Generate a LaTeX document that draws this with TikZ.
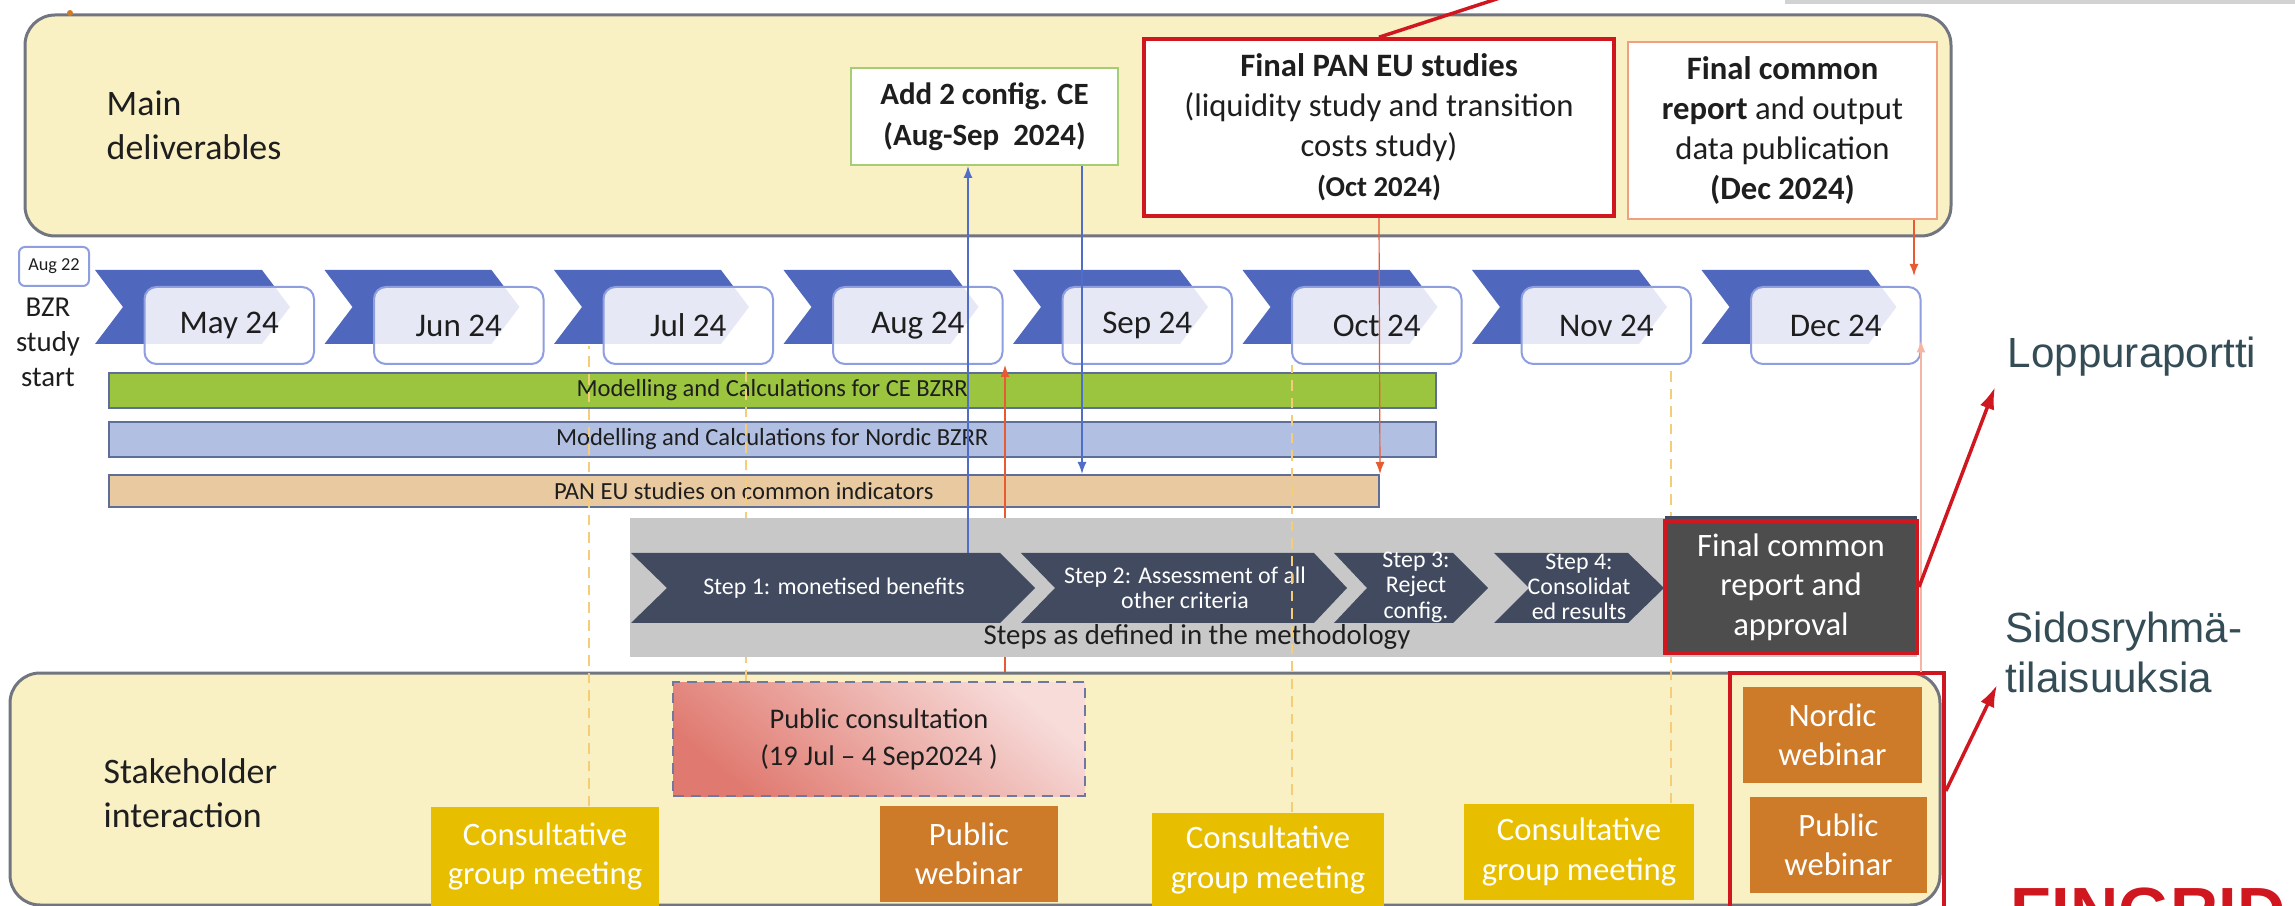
\documentclass[tikz,border=0pt]{standalone}
\usepackage{fontspec}
\setmainfont{Carlito}
\newfontfamily\arialf{Liberation Sans}
\usetikzlibrary{arrows.meta}
\definecolor{bandfill}{RGB}{249,240,196}
\definecolor{bandedge}{RGB}{112,117,128}
\definecolor{chev}{RGB}{79,103,189}
\definecolor{monthedge}{RGB}{142,158,222}
\definecolor{cegreen}{RGB}{155,197,63}
\definecolor{nordic}{RGB}{176,191,226}
\definecolor{panbarc}{RGB}{232,201,160}
\definecolor{baredge}{RGB}{95,110,150}
\definecolor{stepgray}{RGB}{200,200,200}
\definecolor{stepdark}{RGB}{65,74,95}
\definecolor{finaldark}{RGB}{77,77,77}
\definecolor{redline}{RGB}{208,22,31}
\definecolor{gold}{RGB}{232,190,0}
\definecolor{orng}{RGB}{205,122,41}
\definecolor{pcdark}{RGB}{224,122,112}
\definecolor{pclight}{RGB}{247,220,218}
\definecolor{pcedge}{RGB}{112,120,160}
\definecolor{slate}{RGB}{52,76,86}
\definecolor{addgreen}{RGB}{165,205,115}
\definecolor{salmon}{RGB}{240,160,130}
\definecolor{linkblue}{RGB}{80,110,200}
\definecolor{linkred}{RGB}{232,90,50}
\definecolor{dashy}{RGB}{245,205,120}
\definecolor{txt}{RGB}{30,30,30}
\newcommand\fBig{\fontsize{10.2pt}{12.6pt}\selectfont}
\newcommand\fMonth{\fontsize{9.4pt}{11pt}\selectfont}
\newcommand\fDel{\fontsize{9.3pt}{11.4pt}\selectfont}
\newcommand\fAdd{\fontsize{8.8pt}{11.7pt}\selectfont}
\newcommand\fBar{\fontsize{7pt}{8pt}\selectfont}
\newcommand\fStep{\fontsize{6.8pt}{7.2pt}\selectfont}
\newcommand\fSteps{\fontsize{8.2pt}{9pt}\selectfont}
\newcommand\fEv{\fontsize{9.3pt}{11.2pt}\selectfont}
\newcommand\fPC{\fontsize{8.1pt}{10.5pt}\selectfont}
\newcommand\fAug{\fontsize{5.2pt}{6pt}\selectfont}
\newcommand\fBZR{\fontsize{8.2pt}{10pt}\selectfont}
\newcommand\fFin{\fontsize{12pt}{14.2pt}\selectfont}
\begin{document}
\begin{tikzpicture}[x=0.1mm,y=-0.1mm,
  every node/.style={text=txt},
  band/.style={draw=bandedge, line width=0.3mm, fill=bandfill, rounded corners=3mm, inner sep=0},
  delbox/.style={fill=white, line width=0.2mm, align=center, inner sep=0, font=\fDel},
  monthbox/.style={draw=monthedge, line width=0.2mm, fill=white, fill opacity=0.86, text opacity=1,
     rounded corners=1.2mm, minimum width=16.95mm, minimum height=7.7mm, inner sep=0, font=\fMonth},
  bar/.style={draw=baredge, line width=0.2mm, inner sep=0, font=\fBar},
  steptext/.style={text=white, font=\fStep, align=center, inner sep=0},
  ev/.style={inner sep=0, text=white, align=center, font=\fEv},
  ydash/.style={dashy, densely dashed, line width=0.12mm},
  tip/.style={-{Latex[length=1.2mm,width=0.9mm]}},
  bigtip/.style={-{Latex[length=2.2mm,width=1.5mm]}}
]
\useasboundingbox (0,0) rectangle (2295,906);
\clip (0,0) rectangle (2295,906);

% ---- top band: main deliverables
\node[band, minimum width=192.6mm, minimum height=22.1mm] (topband) at (988,125.5) {};
\fill[orng] (70,13) circle (0.3mm);
\node[anchor=west, align=left, font=\fBig, inner sep=0] (maindel) at (106,125) {Main\\deliverables};
\node[delbox, draw=addgreen, font=\fAdd\bfseries, minimum width=26.7mm, minimum height=9.7mm] (add2) at (984.5,116.5) {Add 2 config. CE\\(Aug-Sep~ 2024)};
\node[delbox, draw=redline, line width=0.35mm, minimum width=47mm, minimum height=17.7mm] (panfinal) at (1379,127.5)
  {\textbf{Final PAN EU studies}\\(liquidity study and transition\\costs study)\\{\fontsize{8.2pt}{11pt}\selectfont\bfseries (Oct 2024)}};
\node[delbox, draw=salmon, minimum width=30.9mm, minimum height=17.7mm] (fincommon) at (1782.5,130.5)
  {\textbf{Final common}\\\textbf{report} and output\\data publication\\\textbf{(Dec 2024)}};
\coordinate (offtop) at (1512,-6);
\draw[redline, line width=0.35mm] (panfinal.north) -- (offtop);
\draw[gray!35, line width=0.5mm] (1785,1.5) -- (2295,1.5);

% ---- stakeholder band
\node[band, minimum width=193mm, minimum height=23.2mm] (stakeband) at (975,789) {};
\node[anchor=west, align=left, font=\fBig, inner sep=0] (stake) at (103,793) {Stakeholder\\interaction};
\node[draw=pcedge, densely dashed, line width=0.2mm, top color=pclight, bottom color=pcdark, shading angle=-40,
      minimum width=41.2mm, minimum height=11.4mm, align=center, font=\fPC, inner sep=0] (pubcons) at (879,739)
  {Public consultation\\(19 Jul – 4 Sep2024 )};
\node[ev, fill=gold, minimum width=22.8mm, minimum height=9.9mm] (cons1) at (545,856.5) {Consultative\\group meeting};
\node[ev, fill=orng, minimum width=17.8mm, minimum height=9.6mm] (pubweb1) at (969,854) {Public\\webinar};
\node[ev, fill=gold, minimum width=23.2mm, minimum height=9.4mm] (cons2) at (1268,860) {Consultative\\group meeting};
\node[ev, fill=gold, minimum width=23mm, minimum height=9.6mm] (cons3) at (1579,852) {Consultative\\group meeting};
\node[ev, fill=orng, minimum width=17.9mm, minimum height=9.6mm] (nordweb) at (1832.5,735) {Nordic\\webinar};
\node[ev, fill=orng, minimum width=17.7mm, minimum height=9.6mm] (pubweb2) at (1838.5,845) {Public\\webinar};
\node[draw=redline, line width=0.35mm, minimum width=21.4mm, minimum height=23.6mm, inner sep=0] (webframe) at (1837,791) {};

% ---- timeline
\node[draw=monthedge, line width=0.2mm, rounded corners=0.6mm, minimum width=7mm, minimum height=3.9mm, inner sep=0, font=\fAug] (aug22) at (54,266.5) {Aug 22};
\node[align=center, font=\fBZR, inner sep=0] (bzr) at (48,342.5) {BZR\\study\\start};
\foreach \i in {0,...,7} {
  \pgfmathsetmacro\L{144.5+229.5*\i}
  \fill[chev] (\L-49.5,270) -- (\L+117.5,270) -- (\L+145.5,307) -- (\L+117.5,344) -- (\L-49.5,344) -- (\L-21.5,307) -- cycle;
}
\foreach \m [count=\i from 0] in {May,Jun,Jul,Aug,Sep,Oct,Nov,Dec} {
  \pgfmathsetmacro\C{229.25+229.5*\i}
  \node[monthbox] (m\i) at (\C,325.5) {\m\ 24};
}

% ---- bars
\node[bar, fill=cegreen, minimum width=132.75mm, minimum height=3.5mm] (cebar) at (772.25,390.5) {Modelling and Calculations for CE BZRR};
\node[bar, fill=nordic, minimum width=132.75mm, minimum height=3.5mm] (nobar) at (772.25,439.5) {Modelling and Calculations for Nordic BZRR};
\node[bar, fill=panbarc, minimum width=127.05mm, minimum height=3.2mm] (panbar) at (743.75,491) {PAN EU studies on common indicators};

% ---- connectors hidden behind the steps area
\coordinate (r4) at (1005,0);
\draw[linkred, line width=0.12mm, tip] (r4 |- stakeband.north) -- (r4 |- m3.south);
\coordinate (y1) at (589,346);
\draw[ydash] (y1 |- cons1.north) -- (y1);
\coordinate (y2) at (746,0);
\draw[ydash] (y2 |- pubcons.north) -- (y2 |- m2.south);
\coordinate (y4) at (1671,0);
\draw[ydash] (y4 |- cons3.north) -- (y4 |- m6.south);
\coordinate (d2) at (1921,0);
\draw[linkred!45, line width=0.12mm, tip] (d2 |- stakeband.north) -- ([yshift=-1.5mm]d2 |- m7.east);

% ---- steps area
\node[fill=stepgray, minimum width=128.7mm, minimum height=13.9mm, inner sep=0] (stepsarea) at (1273.5,587.5) {};
\fill[stepdark] (631,553) -- (1000,553) -- (1035,588) -- (1000,623) -- (631,623) -- (667,588) -- cycle;
\fill[stepdark] (1021,553) -- (1314,553) -- (1347,588) -- (1314,623) -- (1021,623) -- (1055,588) -- cycle;
\fill[stepdark] (1334,553) -- (1453,553) -- (1488,588) -- (1453,623) -- (1334,623) -- (1367,588) -- cycle;
\fill[stepdark] (1494,553) -- (1628,553) -- (1664,588) -- (1628,623) -- (1494,623) -- (1529,588) -- cycle;
\node[steptext] (step1) at (834,588) {Step 1: monetised benefits};
\node[steptext] (step2) at (1185,588) {Step 2: Assessment of all\\other criteria};
\node[steptext] (step3) at (1416,587) {Step 3:\\Reject\\config.};
\node[steptext] (step4) at (1579,587) {Step 4:\\Consolidat\\ed results};
\node[font=\fSteps, inner sep=0] (stepscap) at (1197,637) {Steps as defined in the methodology};
\draw[stepdark, line width=0.4mm] (1665,518.5) -- (1917,518.5);
\node[fill=finaldark, draw=redline, line width=0.4mm, minimum width=25.2mm, minimum height=13.2mm, text=white,
      align=center, font=\fEv, inner sep=0] (finalrep) at (1791,587) {Final common\\report and\\approval};

% ---- visible connectors
\coordinate (y3) at (1292,0);
\draw[ydash] (y3 |- cons2.north) -- (y3 |- m5.south);
\coordinate (s1top) at (968,553);
\draw[linkblue, line width=0.15mm, tip] (s1top) -- (s1top |- add2.south);
\coordinate (b2) at (1082,0);
\draw[linkblue, line width=0.15mm, tip] (b2 |- add2.south) -- (b2 |- panbar.north);
\draw[linkred, line width=0.12mm, tip] (panfinal.south) -- (panbar.north east);
\coordinate (decx) at (1914,0);
\draw[linkred, line width=0.15mm, tip] (decx |- fincommon.south) -- ([yshift=1mm]decx |- m7.north);

% ---- annotations on the right
\node[anchor=base west, font=\arialf\fFin, text=slate, inner sep=0] (lopp) at (2007,368) {Loppuraportti};
\node[anchor=west, align=left, font=\arialf\fFin, text=slate, inner sep=0] (sidos) at (2005,652) {Sidosryhmä-\\tilaisuuksia};
\draw[redline, line width=0.35mm, bigtip] (finalrep.east) -- ([xshift=-1.2mm,yshift=-3mm]lopp.west);
\draw[redline, line width=0.35mm, bigtip] (webframe.east) -- ([xshift=-0.8mm,yshift=-3.3mm]sidos.west);
\node[anchor=north west, inner sep=0, font=\arialf\bfseries\fontsize{19pt}{22pt}\selectfont, text=redline] (fingrid) at (2010,887) {FINGRID};
\end{tikzpicture}
\end{document}
